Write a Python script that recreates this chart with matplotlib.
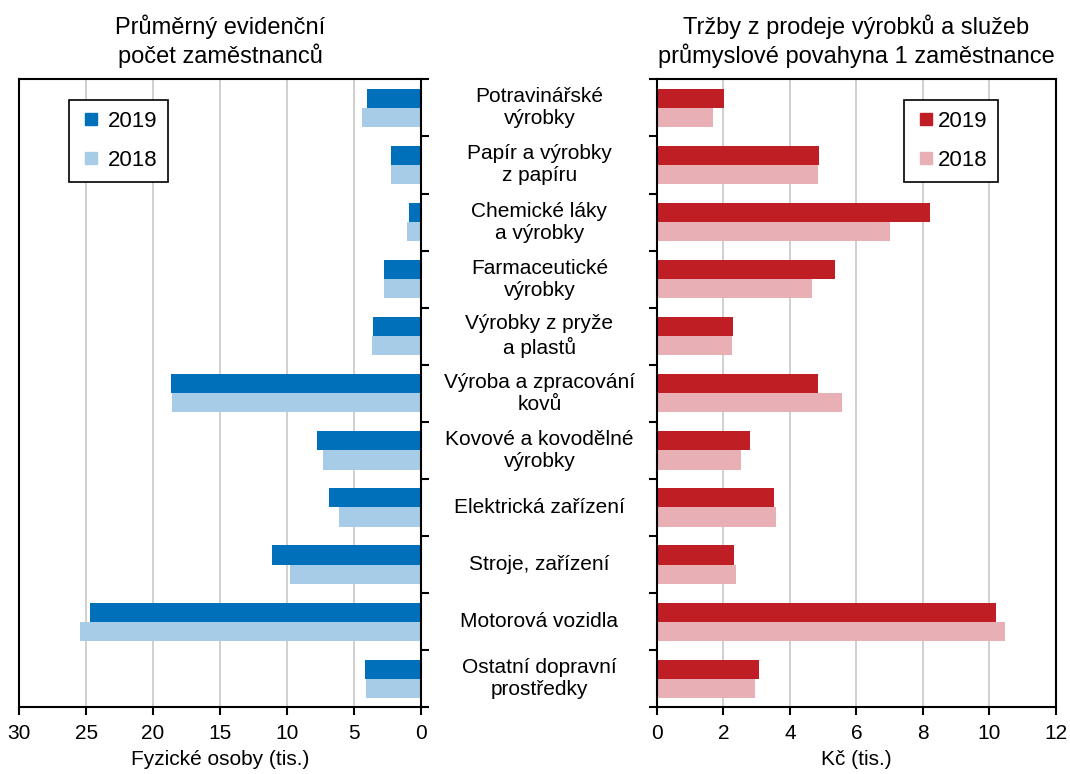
import matplotlib
matplotlib.use('Agg')
import matplotlib.pyplot as plt
import numpy as np
from matplotlib.lines import Line2D

plt.rcParams['font.family'] = ['Liberation Sans', 'DejaVu Sans']

categories = ['Potravinářské\nvýrobky', 'Papír a výrobky\nz papíru', 'Chemické láky\na výrobky',
              'Farmaceutické\nvýrobky', 'Výrobky z pryže\na plastů', 'Výroba a zpracování\nkovů',
              'Kovové a kovodělné\nvýrobky', 'Elektrická zařízení', 'Stroje, zařízení',
              'Motorová vozidla', 'Ostatní dopravní\nprostředky']

# Průměrný evidenční počet zaměstnanců (tis.)
emp_2019 = [4.04, 2.22, 0.90, 2.77, 3.54, 18.69, 7.75, 6.83, 11.11, 24.69, 4.16]
emp_2018 = [4.41, 2.22, 1.02, 2.77, 3.66, 18.59, 7.30, 6.08, 9.77, 25.49, 4.11]

# Tržby na 1 zaměstnance (Kč tis.)
sales_2019 = [2.03, 4.87, 8.21, 5.35, 2.28, 4.84, 2.80, 3.52, 2.31, 10.20, 3.06]
sales_2018 = [1.70, 4.84, 7.00, 4.66, 2.25, 5.57, 2.53, 3.59, 2.37, 10.48, 2.96]

years = ['2019', '2018']
blue = ['#0070BA', '#A6CCE8']
red = ['#BE1E24', '#E8B0B4']

fs = 15
n = len(categories)
y = np.arange(n)
h = 0.335

fig = plt.figure(figsize=(10.7, 7.74), dpi=100)
axl = fig.add_axes([0.018, 0.0862, 0.3752, 0.8113])
axr = fig.add_axes([0.614, 0.0862, 0.3726, 0.8113])


def style(ax):
    ax.set_ylim(n - 0.5, -0.5)
    ax.set_axisbelow(True)
    ax.grid(axis='x', color='#C8C8C8', linewidth=1.2)
    for s in ax.spines.values():
        s.set_linewidth(1.5)
        s.set_color('black')
    ax.set_yticks(np.arange(n + 1) - 0.5)
    ax.set_yticklabels([])
    ax.tick_params(axis='y', length=6, width=1.5)
    ax.tick_params(axis='x', length=6, width=1.5, labelsize=fs, pad=6)


def add_legend(ax, colors, x0, tpad):
    handles = [Line2D([], [], linestyle='none', marker='s', markersize=8, color=c) for c in colors]
    leg = ax.legend(handles, years, loc='upper left', bbox_to_anchor=(x0, 0.967),
                    fontsize=16, handlelength=1.0, handletextpad=tpad,
                    labelspacing=0.8, borderpad=0.5, borderaxespad=0,
                    fancybox=False, edgecolor='black', framealpha=1)
    leg.get_frame().set_linewidth(1.2)


# left chart
axl.barh(y - h / 2, emp_2019, height=h, color=blue[0])
axl.barh(y + h / 2, emp_2018, height=h, color=blue[1])
axl.set_xlim(30, 0)
axl.set_xticks(np.arange(0, 31, 5))
style(axl)
axl.yaxis.tick_right()
axl.set_xlabel('Fyzické osoby (tis.)', fontsize=fs, labelpad=5)
axl.set_title('Průměrný evidenční\npočet zaměstnanců', fontsize=17, pad=12, linespacing=1.2)
add_legend(axl, blue, 0.123, 0.25)

# right chart
axr.barh(y - h / 2, sales_2019, height=h, color=red[0])
axr.barh(y + h / 2, sales_2018, height=h, color=red[1])
axr.set_xlim(0, 12)
axr.set_xticks(np.arange(0, 13, 2))
style(axr)
axr.set_xlabel('Kč (tis.)', fontsize=fs, labelpad=5)
axr.set_title('Tržby z prodeje výrobků a služeb\nprůmyslové povahyna 1 zaměstnance', fontsize=17,
              pad=12, linespacing=1.2)
add_legend(axr, red, 0.62, 0.0)

# category labels between the two charts
for i, c in enumerate(categories):
    axr.text(-0.295, i, c, transform=axr.get_yaxis_transform(), ha='center', va='center',
             fontsize=fs, linespacing=1.2)

fig.savefig('out.png', dpi=100)
